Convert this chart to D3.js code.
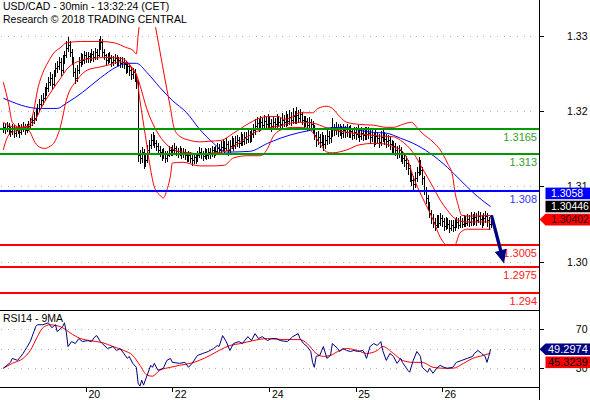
<!DOCTYPE html>
<html><head><meta charset="utf-8">
<script src="https://cdn.jsdelivr.net/npm/d3@7"></script>
<style>
body{margin:0;background:#fff;}
svg{display:block;font-family:"Liberation Sans",Arial,sans-serif;}
</style>
</head><body>
<svg id="c" width="590" height="400"></svg>
<script>
// ---------- DATA ----------
const titleLines = ["USD/CAD - 30min - 13:32:24 (CET)", "Research \u00A9 2018 TRADING CENTRAL"];
const rsiTitle = "RSI14 - 9MA";

const firstOpen = 1.3165;
const closes = [
1.3167,1.3165,1.3169,1.3163,1.3162,1.3166,1.3159,1.3163,1.3166,1.3160,1.3165,1.3167,1.3163,1.3166,
1.3169,1.3174,1.3177,1.3180,
1.3187,1.3193,1.3199,1.3204,1.3207,
1.3215,1.3221,1.3229,1.3235,1.3226,1.3240,1.3248,1.3251,1.3257,1.3246,1.3259,1.3266,1.3276,1.3280,1.3270,
1.3259,1.3243,1.3235,1.3246,1.3257,1.3262,1.3259,1.3266,1.3262,
1.3265,1.3262,1.3268,1.3263,1.3270,1.3266,1.3280,1.3284,
1.3270,1.3266,1.3259,1.3263,1.3262,1.3257,1.3259,1.3262,1.3257,1.3259,1.3255,
1.3257,1.3254,1.3248,1.3251,1.3246,1.3240,1.3243,1.3237,1.3229,
1.3129,1.3125,1.3133,1.3119,1.3122,1.3136,
1.3143,1.3149,1.3152,1.3145,1.3141,1.3136,
1.3133,1.3128,1.3132,1.3125,1.3129,1.3136,1.3133,
1.3136,1.3138,1.3134,1.3132,1.3136,1.3130,1.3133,1.3129,1.3126,1.3129,1.3125,1.3122,1.3126,1.3123,1.3129,1.3133,
1.3130,1.3128,1.3132,1.3129,1.3133,1.3130,1.3136,1.3132,1.3134,1.3138,1.3136,
1.3140,1.3143,1.3138,1.3144,1.3136,1.3141,1.3147,1.3143,
1.3147,1.3149,1.3145,1.3152,1.3148,1.3154,1.3151,1.3156,1.3152,1.3158,1.3163,
1.3169,1.3173,1.3167,1.3174,1.3170,1.3176,1.3171,1.3177,1.3173,1.3169,1.3174,1.3171,1.3177,1.3174,
1.3171,1.3177,1.3174,1.3180,1.3176,1.3181,1.3177,1.3182,1.3178,1.3184,1.3180,1.3185,
1.3177,1.3173,1.3176,1.3170,1.3174,1.3171,1.3167,
1.3156,1.3149,1.3154,1.3147,1.3152,1.3144,1.3149,1.3155,
1.3152,1.3160,1.3166,1.3163,
1.3166,1.3162,1.3165,1.3159,1.3163,1.3160,1.3165,
1.3159,1.3162,1.3156,1.3160,1.3158,1.3162,1.3155,1.3159,1.3156,1.3160,1.3158,
1.3159,1.3154,1.3156,1.3149,1.3155,1.3152,1.3147,1.3154,1.3156,1.3151,1.3148,
1.3149,1.3144,1.3138,1.3141,1.3136,1.3132,1.3136,
1.3129,1.3125,1.3122,1.3118,
1.3111,1.3101,1.3095,1.3089,1.3097,1.3105,
1.3115,1.3108,1.3097,
1.3081,1.3070,1.3061,
1.3049,1.3042,1.3037,1.3033,1.3040,
1.3036,1.3042,1.3038,1.3031,1.3037,1.3034,1.3029,1.3033,1.3030,
1.3034,1.3037,1.3033,1.3038,1.3034,1.3040,1.3036,1.3041,
1.3037,1.3042,1.3038,1.3044,1.3040,1.3045,1.3041,1.3037,1.3042,1.3045,1.3040,1.3034,1.3040];

const highs = [
1.3173,1.3172,1.3175,1.3173,1.3168,1.3171,1.3170,1.3168,1.3173,1.3170,1.3171,1.3174,1.3171,1.3172,
1.3176,1.3180,1.3184,1.3188,
1.3193,1.3199,1.3206,1.3211,1.3214,
1.3222,1.3228,1.3236,1.3243,1.3240,1.3246,1.3255,1.3258,1.3264,1.3262,1.3266,1.3272,1.3286,1.3291,1.3286,
1.3274,1.3264,1.3249,1.3252,1.3263,1.3269,1.3268,1.3272,1.3271,
1.3271,1.3269,1.3274,1.3272,1.3276,1.3274,1.3288,1.3292,
1.3288,1.3274,1.3268,1.3269,1.3270,1.3266,1.3265,1.3268,1.3266,1.3264,1.3264,
1.3263,1.3262,1.3258,1.3257,1.3255,1.3250,1.3249,1.3247,1.3240,
1.3232,1.3136,1.3140,1.3137,1.3130,1.3143,
1.3150,1.3158,1.3160,1.3156,1.3150,1.3145,
1.3141,1.3137,1.3138,1.3135,1.3135,1.3142,1.3140,
1.3143,1.3145,1.3142,1.3139,1.3142,1.3139,1.3139,1.3137,1.3133,1.3135,1.3133,1.3130,1.3132,1.3131,1.3135,1.3140,
1.3138,1.3135,1.3138,1.3137,1.3139,1.3138,1.3142,1.3140,1.3141,1.3145,1.3144,
1.3148,1.3151,1.3148,1.3152,1.3148,1.3149,1.3155,1.3152,
1.3155,1.3157,1.3154,1.3160,1.3158,1.3161,1.3160,1.3164,1.3162,1.3166,1.3171,
1.3178,1.3181,1.3178,1.3182,1.3180,1.3184,1.3181,1.3186,1.3183,1.3178,1.3181,1.3180,1.3186,1.3183,
1.3180,1.3187,1.3184,1.3190,1.3186,1.3191,1.3188,1.3193,1.3189,1.3195,1.3191,1.3192,
1.3188,1.3182,1.3183,1.3180,1.3181,1.3179,1.3176,
1.3170,1.3160,1.3162,1.3158,1.3160,1.3156,1.3157,1.3163,
1.3162,1.3168,1.3180,1.3172,
1.3174,1.3171,1.3172,1.3169,1.3171,1.3169,1.3172,
1.3169,1.3170,1.3166,1.3168,1.3167,1.3170,1.3166,1.3167,1.3165,1.3168,1.3167,
1.3168,1.3165,1.3164,1.3160,1.3163,1.3161,1.3158,1.3162,1.3164,1.3161,1.3158,
1.3157,1.3154,1.3149,1.3148,1.3146,1.3141,1.3143,
1.3140,1.3134,1.3131,1.3127,
1.3122,1.3115,1.3106,1.3100,1.3105,1.3113,
1.3126,1.3122,1.3112,
1.3100,1.3085,1.3074,
1.3065,1.3054,1.3048,1.3043,1.3047,
1.3046,1.3049,1.3047,1.3042,1.3044,1.3043,1.3039,1.3040,1.3039,
1.3041,1.3044,1.3042,1.3045,1.3043,1.3047,1.3045,1.3048,
1.3046,1.3050,1.3048,1.3051,1.3049,1.3052,1.3050,1.3046,1.3049,1.3052,1.3049,1.3044,1.3046];

const lows = [
1.3159,1.3158,1.3160,1.3156,1.3154,1.3157,1.3152,1.3154,1.3158,1.3153,1.3156,1.3161,1.3157,1.3159,
1.3162,1.3165,1.3169,1.3172,
1.3176,1.3182,1.3188,1.3194,1.3198,
1.3203,1.3210,1.3216,1.3224,1.3218,1.3222,1.3236,1.3242,1.3246,1.3238,1.3242,1.3254,1.3262,1.3270,1.3263,
1.3252,1.3236,1.3226,1.3230,1.3240,1.3250,1.3252,1.3254,1.3255,
1.3256,1.3255,1.3258,1.3257,1.3259,1.3259,1.3263,1.3273,
1.3264,1.3259,1.3252,1.3254,1.3255,1.3250,1.3251,1.3254,1.3250,1.3251,1.3248,
1.3249,1.3247,1.3240,1.3242,1.3238,1.3232,1.3234,1.3229,1.3220,
1.3120,1.3117,1.3118,1.3110,1.3112,1.3118,
1.3130,1.3137,1.3142,1.3138,1.3134,1.3129,
1.3126,1.3121,1.3123,1.3118,1.3120,1.3126,1.3127,
1.3128,1.3131,1.3128,1.3125,1.3127,1.3124,1.3125,1.3122,1.3119,1.3120,1.3118,1.3114,1.3117,1.3116,1.3119,1.3125,
1.3124,1.3121,1.3123,1.3122,1.3124,1.3123,1.3126,1.3125,1.3127,1.3130,1.3129,
1.3131,1.3134,1.3131,1.3134,1.3128,1.3131,1.3137,1.3135,
1.3137,1.3140,1.3138,1.3141,1.3141,1.3143,1.3144,1.3146,1.3145,1.3147,1.3152,
1.3157,1.3163,1.3160,1.3162,1.3163,1.3165,1.3164,1.3166,1.3165,1.3161,1.3163,1.3164,1.3166,1.3167,
1.3163,1.3166,1.3167,1.3168,1.3169,1.3170,1.3169,1.3171,1.3171,1.3172,1.3173,1.3174,
1.3170,1.3165,1.3167,1.3162,1.3164,1.3163,1.3158,
1.3149,1.3140,1.3143,1.3138,1.3141,1.3135,1.3137,1.3143,
1.3144,1.3146,1.3154,1.3155,
1.3156,1.3154,1.3155,1.3151,1.3153,1.3152,1.3154,
1.3152,1.3153,1.3149,1.3151,1.3150,1.3152,1.3147,1.3149,1.3148,1.3150,1.3150,
1.3151,1.3146,1.3147,1.3140,1.3143,1.3144,1.3138,1.3141,1.3147,1.3143,1.3139,
1.3140,1.3136,1.3129,1.3131,1.3127,1.3123,1.3125,
1.3120,1.3116,1.3112,1.3108,
1.3101,1.3092,1.3086,1.3080,1.3084,1.3092,
1.3100,1.3101,1.3088,
1.3074,1.3062,1.3054,
1.3042,1.3034,1.3028,1.3024,1.3028,
1.3029,1.3031,1.3030,1.3024,1.3026,1.3027,1.3022,1.3024,1.3023,
1.3025,1.3029,1.3027,1.3029,1.3028,1.3030,1.3030,1.3031,
1.3030,1.3032,1.3031,1.3033,1.3032,1.3035,1.3033,1.3028,1.3031,1.3036,1.3030,1.3026,1.3029];

// Bollinger bands : bar index / value
const bbUpIdx = [0,3,5,9,14,17,19,22,25,28,32,35,43,54,62,68,72,74,75,77,79,82,84,87,90,93,95,98,104,109,115,121,128,137,143,147,153,156,160,165,172,175,180,183,187,191,198,206,213,217,222,227,230,233,239,243,247,250,251,253,255,260,271];
const bbUpVal = [1.3229,1.3199,1.3174,1.3167,1.3169,1.3191,1.3218,1.3242,1.3257,1.3269,1.3277,1.3283,1.3285,1.3285,1.3283,1.3277,1.3273,1.3268,1.3294,1.3328,1.3347,1.3339,1.3314,1.3273,1.3232,1.3193,1.3166,1.3155,1.3149,1.3147,1.3148,1.3149,1.3159,1.3173,1.3180,1.3182,1.3182,1.3178,1.3180,1.3187,1.3187,1.3193,1.3196,1.3193,1.3182,1.3174,1.3171,1.3170,1.3167,1.3167,1.3171,1.3174,1.3167,1.3159,1.3147,1.3136,1.3118,1.3099,1.3081,1.3060,1.3046,1.3045,1.3046];
const bbMidIdx = [0,7,14,17,22,28,32,35,41,50,59,65,69,72,74,76,80,85,91,97,104,109,117,122,128,133,139,147,154,160,165,172,176,180,187,198,210,217,221,228,233,239,243,247,251,257,271];
const bbMidVal = [1.3174,1.3167,1.3167,1.3174,1.3198,1.3221,1.3235,1.3246,1.3257,1.3262,1.3263,1.3262,1.3257,1.3246,1.3240,1.3225,1.3191,1.3163,1.3143,1.3134,1.3132,1.3130,1.3132,1.3133,1.3140,1.3149,1.3159,1.3166,1.3169,1.3173,1.3174,1.3173,1.3170,1.3166,1.3162,1.3158,1.3155,1.3154,1.3149,1.3132,1.3111,1.3085,1.3067,1.3053,1.3042,1.3037,1.3037];
const bbLowIdx = [0,2,4,9,13,15,17,20,23,26,28,32,35,41,47,54,59,65,69,72,74,76,79,82,84,87,89,91,93,94,100,109,117,123,128,136,143,147,150,154,161,169,172,176,180,183,191,198,206,213,217,221,225,228,233,239,243,247,251,254,258,271];
const bbLowVal = [1.3136,1.3152,1.3159,1.3163,1.3165,1.3160,1.3149,1.3140,1.3138,1.3141,1.3145,1.3170,1.3204,1.3232,1.3246,1.3250,1.3253,1.3257,1.3255,1.3248,1.3239,1.3204,1.3156,1.3108,1.3085,1.3074,1.3070,1.3081,1.3101,1.3118,1.3119,1.3114,1.3114,1.3115,1.3125,1.3128,1.3128,1.3138,1.3154,1.3163,1.3167,1.3166,1.3160,1.3145,1.3133,1.3132,1.3136,1.3143,1.3145,1.3144,1.3140,1.3136,1.3122,1.3099,1.3071,1.3040,1.3016,1.3005,1.3005,1.3022,1.3027,1.3027];
// blue moving average
const maIdx = [0,20,30,35,44,54,63,69,74,80,87,94,102,109,117,124,137,147,154,165,171,180,189,198,206,213,221,228,237,247,254,261,271];
const maVal = [1.3207,1.3193,1.3193,1.3200,1.3215,1.3235,1.3250,1.3255,1.3255,1.3242,1.3222,1.3204,1.3187,1.3165,1.3145,1.3133,1.3134,1.3145,1.3152,1.3160,1.3163,1.3166,1.3167,1.3163,1.3160,1.3159,1.3152,1.3145,1.3132,1.3112,1.3095,1.3078,1.3058];

// RSI14 and its 9MA
const rsiIdx = [0,4,5,8,11,13,15,16,17,18,19,22,25,27,29,30,33,34,35,36,38,40,42,44,47,49,51,52,54,55,58,61,63,65,67,69,70,72,74,75,76,77,78,80,82,83,84,86,89,91,93,94,98,101,103,105,108,111,114,117,119,120,122,124,126,128,131,133,136,138,140,142,144,147,149,152,154,158,161,164,165,167,169,171,172,173,174,176,178,180,182,183,186,187,189,191,193,195,197,200,201,202,204,206,208,210,211,213,215,217,219,221,222,225,226,228,230,232,233,236,237,239,241,243,245,247,250,252,255,258,261,262,264,266,268,269,270,271];
const rsiVal = [30,36,40,38,45,51,57,62,67,72,74,74,76,71,74,67,72,76,67,52,57,55,60,57,58,57,62,63,57,55,50,52,48,50,45,40,42,35,31,15,12,18,13,23,33,31,35,28,30,38,40,36,35,36,31,35,43,45,47,50,53,52,63,57,48,55,57,55,62,58,65,60,62,58,60,60,58,57,62,65,60,55,52,47,36,31,42,43,52,40,43,55,50,47,50,48,47,48,47,48,45,40,52,55,53,57,48,38,45,42,35,40,36,28,26,38,47,42,31,26,30,25,30,33,31,30,31,36,38,40,42,45,48,45,42,36,42,49.2974];
const rsiMaIdx = [0,5,11,15,19,22,26,30,33,37,43,48,55,61,67,72,76,80,83,87,93,98,104,109,115,120,126,132,139,147,156,165,169,174,178,182,186,191,197,202,208,211,217,222,228,233,239,245,250,256,261,267,271];
const rsiMaVal = [30,35,40,48,62,71,74,73,71,66,60,58,56,52,48,43,33,23,22,28,31,33,35,38,43,48,53,55,58,60,59,59,55,45,42,43,47,50,48,45,48,52,45,38,36,36,31,30,30,35,40,43,45.3239];

// levels
const greenLevels = [1.3165, 1.313];
const blueLevels = [1.308];
const redLevels = [1.3005, 1.2975, 1.294];

// axis ticks
const priceTickValues = [1.3292, 1.3189, 1.3086, 1.2982];
const priceTickLabels = ["1.33", "1.32", "1.31", "1.30"];
const rsiGridValues = [70, 50, 30];
const rsiTickValues = [70, 30];
const rsiTickLabels = ["70", "30"];
const dayTickIdx = [46, 94, 148, 196, 244];
const dayTickLabels = ["20", "22", "24", "25", "26"];

// last-value tags
const priceTags = [{v:1.30402, label:"1.30402", fill:"#ff0000", color:"#1a0000", arrow:true},
                   {v:1.30446, label:"1.30446", fill:"#000000", color:"#ffffff", arrow:false},
                   {v:1.3058,  label:"1.3058",  fill:"#0000ff", color:"#ffffff", arrow:false}];
const rsiTags = [{v:49.2974, label:"49.2974", fill:"#000080", color:"#ffffff", arrow:true},
                 {v:45.3239, label:"45.3239", fill:"#ff0000", color:"#000000", arrow:false}];

// forecast arrow (bar index, price)
const arrowFrom = [271.5, 1.3046];
const arrowTo = [278.5, 1.2980];

// ---------- CHART ----------
const svg = d3.select("#c");
const AXX = 539.5, PR = 538;
const x = d3.scaleLinear().domain([0, 300]).range([3.3, 3.3 + 300 * 1.798]);
const y = d3.scaleLinear().domain([1.2916, 1.3342]).range([310, 0]);
const yR = d3.scaleLinear().domain([11.1, 88.9]).range([387, 310]);

const defs = svg.append("defs");
defs.append("clipPath").attr("id", "clipP").append("rect").attr("x", 0).attr("y", 27).attr("width", PR).attr("height", 283);
defs.append("clipPath").attr("id", "clipR").append("rect").attr("x", 0).attr("y", 311).attr("width", PR).attr("height", 76);

// gridlines
const grid = svg.append("g").attr("stroke", "#b4b4b4").attr("stroke-dasharray", "1,5.7").attr("shape-rendering", "crispEdges");
grid.selectAll("line.p").data(priceTickValues).join("line").attr("class", "p")
  .attr("x1", 1).attr("x2", 534).attr("y1", d => Math.round(y(d)) + 0.5).attr("y2", d => Math.round(y(d)) + 0.5);
grid.selectAll("line.r").data(rsiGridValues).join("line").attr("class", "r")
  .attr("x1", 1).attr("x2", 534).attr("y1", d => Math.round(yR(d)) + 0.5).attr("y2", d => Math.round(yR(d)) + 0.5);

// candles
const bars = closes.map((c, i) => ({i, o: i ? closes[i - 1] : firstOpen, h: highs[i], l: lows[i], c}));
const gC = svg.append("g").attr("clip-path", "url(#clipP)").attr("fill", "#000").attr("shape-rendering", "crispEdges");
gC.selectAll("rect.hl").data(bars).join("rect").attr("class", "hl")
  .attr("x", d => Math.round(x(d.i))).attr("width", 1)
  .attr("y", d => Math.round(y(d.h))).attr("height", d => Math.max(1, Math.round(y(d.l)) - Math.round(y(d.h))));
gC.selectAll("rect.op").data(bars).join("rect").attr("class", "op")
  .attr("x", d => Math.round(x(d.i)) - 1).attr("width", 1).attr("y", d => Math.round(y(d.o))).attr("height", 1);
gC.selectAll("rect.cl").data(bars).join("rect").attr("class", "cl")
  .attr("x", d => Math.round(x(d.i)) + 1).attr("width", 1).attr("y", d => Math.round(y(d.c))).attr("height", 1);

// indicator lines
const lineP = d3.line().x(d => x(d[0])).y(d => y(d[1])).curve(d3.curveMonotoneX);
const gL = svg.append("g").attr("clip-path", "url(#clipP)").attr("fill", "none").attr("stroke-width", 1);
gL.append("path").attr("d", lineP(d3.zip(maIdx, maVal))).attr("stroke", "#0000ff");
[[bbUpIdx, bbUpVal], [bbMidIdx, bbMidVal], [bbLowIdx, bbLowVal]].forEach(([a, b]) =>
  gL.append("path").attr("d", lineP(d3.zip(a, b))).attr("stroke", "#ff0000"));

// level lines
const levels = [
  ...greenLevels.map(v => ({v, stroke: "#009a00", text: "#36a02c"})),
  ...blueLevels.map(v => ({v, stroke: "#0000ff", text: "#3434ff"})),
  ...redLevels.map(v => ({v, stroke: "#ff0000", text: "#ff2020"}))
];
const gLev = svg.append("g");
gLev.selectAll("line").data(levels).join("line")
  .attr("x1", 0).attr("x2", PR + 1).attr("y1", d => Math.round(y(d.v))).attr("y2", d => Math.round(y(d.v)))
  .attr("stroke", d => d.stroke).attr("stroke-width", 2).attr("shape-rendering", "crispEdges");
gLev.selectAll("text").data(levels).join("text")
  .attr("x", 537).attr("y", d => y(d.v) + 12).attr("text-anchor", "end")
  .attr("font-size", "11px").attr("fill", d => d.text).text(d => String(d.v));

// arrow
const ax0 = x(arrowFrom[0]), ay0 = y(arrowFrom[1]), ax1 = x(arrowTo[0]), ay1 = y(arrowTo[1]);
const len = Math.hypot(ax1 - ax0, ay1 - ay0), ux = (ax1 - ax0) / len, uy = (ay1 - ay0) / len;
svg.append("line").attr("x1", ax0).attr("y1", ay0).attr("x2", ax1 - ux * 11).attr("y2", ay1 - uy * 11)
  .attr("stroke", "#000080").attr("stroke-width", 3.3);
const hb = [ax1 - ux * 13.5, ay1 - uy * 13.5];
svg.append("path").attr("fill", "#000080")
  .attr("d", `M${ax1},${ay1}L${hb[0] - uy * 6},${hb[1] + ux * 6}L${hb[0] + uy * 6},${hb[1] - ux * 6}Z`);

// RSI lines
const gR = svg.append("g").attr("clip-path", "url(#clipR)").attr("fill", "none");
gR.append("path").attr("d", d3.line().x(d => x(d[0])).y(d => yR(d[1])).curve(d3.curveMonotoneX)(d3.zip(rsiMaIdx, rsiMaVal)))
  .attr("stroke", "#ff0000").attr("stroke-width", 1);
gR.append("path").attr("d", d3.line().x(d => x(d[0])).y(d => yR(d[1]))(d3.zip(rsiIdx, rsiVal)))
  .attr("stroke", "#000080").attr("stroke-width", 1);

// frame lines
const frame = svg.append("g").attr("stroke", "#000").attr("shape-rendering", "crispEdges");
frame.append("line").attr("x1", AXX).attr("x2", AXX).attr("y1", 0).attr("y2", 400);
frame.append("line").attr("x1", 0).attr("x2", AXX).attr("y1", 310.5).attr("y2", 310.5);
frame.append("line").attr("x1", 0).attr("x2", AXX).attr("y1", 387.5).attr("y2", 387.5);

// right axes
function styleAxis(g) {
  g.select(".domain").remove();
  g.selectAll(".tick line").attr("stroke", "#000").attr("shape-rendering", "crispEdges");
  g.selectAll(".tick text").attr("x", 48).attr("text-anchor", "end").attr("fill", "#000")
    .attr("font-size", "10.5px").attr("font-family", "Liberation Sans, Arial, sans-serif");
}
svg.append("g").attr("transform", `translate(${AXX},0)`)
  .call(d3.axisRight(y).tickValues(priceTickValues).tickFormat((d, i) => priceTickLabels[i]).tickSize(4))
  .call(styleAxis);
svg.append("g").attr("transform", `translate(${AXX},0)`)
  .call(d3.axisRight(yR).tickValues(rsiTickValues).tickFormat((d, i) => rsiTickLabels[i]).tickSize(4))
  .call(styleAxis);

// day ticks
const gD = svg.append("g");
gD.selectAll("line").data(dayTickIdx).join("line")
  .attr("x1", d => Math.round(x(d)) + 0.5).attr("x2", d => Math.round(x(d)) + 0.5)
  .attr("y1", 387).attr("y2", 392).attr("stroke", "#000");
gD.selectAll("text").data(dayTickIdx).join("text")
  .attr("x", d => x(d) + 2.5).attr("y", 397.5).attr("font-size", "10.5px").attr("fill", "#000")
  .text((d, i) => dayTickLabels[i]);

// tags
function drawTags(tags, scale, fontSize, textX) {
  const hh = 5.8;
  let prevTop = null, prevBottom = null, first = true;
  tags.forEach(t => {
    let cy = scale(t.v);
    if (!first) {
      if (t.v > tags[0].v) { if (cy + hh > prevTop - 1.5) cy = prevTop - 1.5 - hh; }
      else { if (cy - hh < prevBottom + 1.5) cy = prevBottom + 1.5 + hh; }
    }
    const g = svg.append("g");
    const left = 545.5;
    if (t.arrow) {
      g.append("path").attr("fill", t.fill)
        .attr("d", `M${AXX},${cy}L${left},${cy - hh}L590,${cy - hh}L590,${cy + hh}L${left},${cy + hh}Z`);
    } else {
      g.append("rect").attr("fill", t.fill).attr("x", left).attr("y", cy - hh).attr("width", 590 - left).attr("height", hh * 2);
    }
    g.append("text").attr("x", textX).attr("y", cy + fontSize * 0.36).attr("font-size", fontSize + "px")
      .attr("fill", t.color).text(t.label);
    if (first) { prevTop = cy - hh; prevBottom = cy + hh; first = false; }
    else { prevTop = Math.min(prevTop, cy - hh); prevBottom = Math.max(prevBottom, cy + hh); }
  });
}
drawTags(priceTags, y, 10.5, 551);
drawTags(rsiTags, yR, 11, 548);

// titles
svg.append("g").selectAll("text").data(titleLines).join("text")
  .attr("x", 3).attr("y", (d, i) => 10.3 + i * 13).attr("font-size", "10.5px").attr("fill", "#000").text(d => d);
svg.append("text").attr("x", 3).attr("y", 321.5).attr("font-size", "10.5px").attr("fill", "#000").text(rsiTitle);
</script>
</body></html>
